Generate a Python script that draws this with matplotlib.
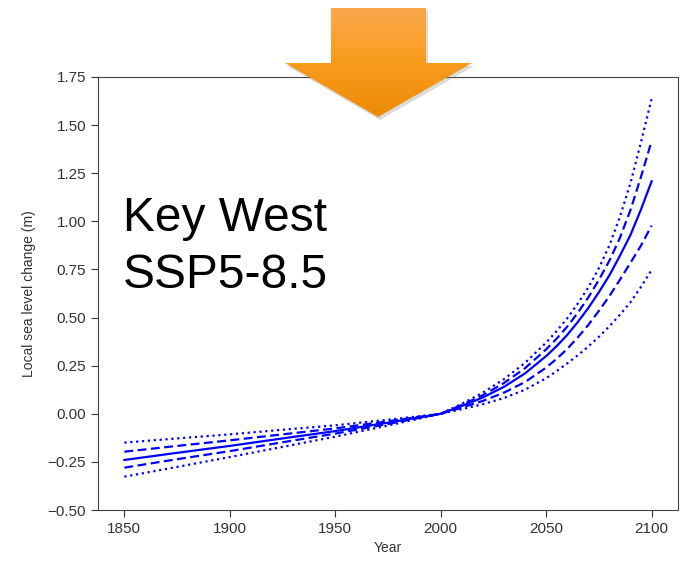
import numpy as np
from matplotlib import pyplot as plt
from matplotlib.patches import Polygon
from matplotlib.colors import LinearSegmentedColormap

plt.rcParams['font.family'] = ['Liberation Sans', 'DejaVu Sans']

# years and projections (m)
years = [1850, 1875, 1900, 1925, 1950, 1975, 2000, 2010, 2020, 2030, 2040,
         2050, 2055, 2060, 2065, 2070, 2075, 2080, 2085, 2090, 2095, 2100]
median = [-0.240, -0.203, -0.167, -0.128, -0.090, -0.046, 0.000, 0.040, 0.085, 0.140, 0.210,
          0.300, 0.352, 0.410, 0.477, 0.550, 0.632, 0.720, 0.822, 0.930, 1.063, 1.208]
upper_dash = [-0.197, -0.167, -0.138, -0.107, -0.076, -0.039, 0.000, 0.046, 0.097, 0.160, 0.237,
              0.335, 0.391, 0.453, 0.525, 0.605, 0.696, 0.796, 0.915, 1.060, 1.233, 1.418]
lower_dash = [-0.280, -0.236, -0.194, -0.148, -0.103, -0.053, 0.000, 0.032, 0.067, 0.110, 0.165,
              0.240, 0.286, 0.337, 0.397, 0.462, 0.535, 0.612, 0.697, 0.785, 0.875, 0.978]
upper_dot = [-0.150, -0.128, -0.107, -0.083, -0.060, -0.031, 0.000, 0.052, 0.110, 0.180, 0.265,
             0.370, 0.430, 0.496, 0.573, 0.657, 0.757, 0.875, 1.025, 1.200, 1.413, 1.638]
lower_dot = [-0.327, -0.276, -0.225, -0.172, -0.119, -0.061, 0.000, 0.024, 0.050, 0.082, 0.125,
             0.185, 0.222, 0.262, 0.304, 0.350, 0.400, 0.455, 0.515, 0.580, 0.660, 0.748]

fig = plt.figure(figsize=(6.92, 5.62), dpi=100)
ax = fig.add_axes([98/692, 52/562, 580/692, 433/562])

ax.plot(years, median, 'b-', lw=1.6)
ax.plot(years, upper_dash, 'b--', lw=1.6, dashes=(4, 2))
ax.plot(years, lower_dash, 'b--', lw=1.6, dashes=(4, 2))
ax.plot(years, upper_dot, 'b:', lw=1.6)
ax.plot(years, lower_dot, 'b:', lw=1.6)

ax.set_ylim(-0.5, 1.75)
ax.set_yticks(np.arange(-0.5, 1.76, 0.25))
ax.set_xticks([1850, 1900, 1950, 2000, 2050, 2100])
ax.tick_params(labelsize=11, colors='#333333', length=5)
for s in ax.spines.values():
    s.set_color('#444444')
ax.set_xlabel('Year', fontsize=10, color='#333333')
ax.set_ylabel('Local sea level change (m)', fontsize=10, color='#333333')
ax.yaxis.set_label_coords(-0.107, 0.5)
ax.xaxis.set_label_coords(0.5, -0.072)

ax.text(0.043, 0.725, 'Key West\nSSP5-8.5', transform=ax.transAxes,
        fontsize=34.5, va='top', ha='left', linespacing=1.33, color='black')

# orange arrow on top, in pixel coords
ov = fig.add_axes([0, 0, 1, 1], zorder=5)
ov.set_xlim(0, 692)
ov.set_ylim(562, 0)
ov.axis('off')
pts = [(331, 8), (426, 8), (426, 63), (472, 63), (378, 117), (285, 63), (331, 63)]
shadow = Polygon([(x + 2, y + 3) for x, y in pts], closed=True, fc='#888888', ec='none',
                 alpha=0.3, zorder=1)
ov.add_patch(shadow)
arrow = Polygon(pts, closed=True, fc='none', ec='none', zorder=2)
ov.add_patch(arrow)
cmap = LinearSegmentedColormap.from_list('orng', ['#FBA84C', '#F89C1E', '#EE8A04'])
grad = np.linspace(0, 1, 200).reshape(-1, 1)
im = ov.imshow(grad, cmap=cmap, extent=(285, 472, 117, 8), aspect='auto', zorder=3)
im.set_clip_path(arrow)

fig.savefig('out.png', dpi=100)
